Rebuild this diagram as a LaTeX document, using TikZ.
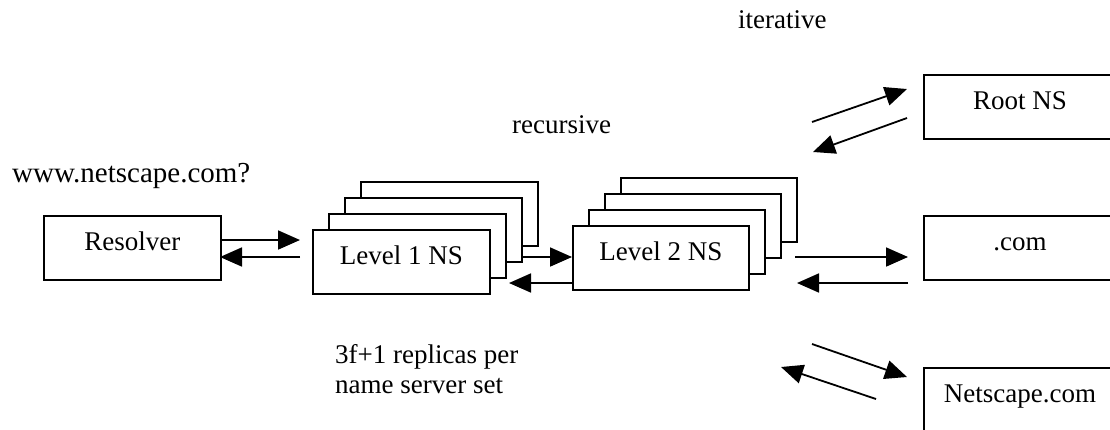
\documentclass[tikz,border=0pt]{standalone}
\usepackage{fontspec}
\setmainfont{Liberation Serif}
\usetikzlibrary{arrows.meta,calc}
\begin{document}
\begin{tikzpicture}[x=1pt,y=-1pt,
  every node/.style={font=\fontsize{27}{30}\selectfont},
  box/.style={draw,line width=1.8pt,fill=white,rectangle,inner sep=0pt,minimum width=177pt,minimum height=64pt,anchor=north west},
  rbox/.style={box,minimum width=192pt},
  lbl/.style={anchor=base,inner sep=0pt},
  txt/.style={anchor=base west,inner sep=0pt},
  arr/.style={line width=1.8pt,-{Triangle[length=22pt,width=19pt]}}]
\useasboundingbox (0,0) rectangle (1110,429);
\begin{scope}
\clip (0,0) rectangle (1110,429);
% Resolver
\node[box] (res) at (43,215) {};
\node[lbl] (resT) at ($(res.north)+(0,35)$) {Resolver};
% Level 1 stack
\node[box] (l1d) at (360,181) {};
\node[box] (l1c) at (344,197) {};
\node[box] (l1b) at (328,213) {};
\node[box] (l1a) at (312,229) {};
\node[lbl] (l1T) at ($(l1a.north)+(0,35)$) {Level 1 NS};
% Level 2 stack
\node[box,minimum width=176pt] (l2d) at (620,177) {};
\node[box,minimum width=176pt] (l2c) at (604,193) {};
\node[box,minimum width=176pt] (l2b) at (588,209) {};
\node[box,minimum width=176pt] (l2a) at (572,225) {};
\node[lbl] (l2T) at ($(l2a.north)+(0,35)$) {Level 2 NS};
% right column
\node[rbox] (root) at (923,74) {};
\node[lbl] (rootT) at ($(root.north)+(0,35)$) {Root NS};
\node[rbox] (com) at (923,215) {};
\node[lbl] (comT) at ($(com.north)+(0,35)$) {.com};
\node[rbox] (net) at (923,367) {};
\node[lbl] (netT) at ($(net.north)+(0,35)$) {Netscape.com};
\end{scope}
% texts
\node[txt,font=\fontsize{29}{32}\selectfont] (www) at (12,182) {www.netscape.com?};
\node[txt] (iter) at (738,28) {iterative};
\node[txt] (rec) at (512,133) {recursive};
\node[txt] (rep1) at (335,363) {3f+1 replicas per};
\node[txt] (rep2) at (335,393) {name server set};
% arrow end points
\coordinate (a1s) at (220,240); \coordinate (a1e) at (300,240);
\coordinate (b1s) at (300,257); \coordinate (b1e) at (220,257);
\coordinate (a2s) at (523,257); \coordinate (a2e) at (572,257);
\coordinate (b2s) at (572,283); \coordinate (b2e) at (509,283);
\coordinate (a3s) at (795,257); \coordinate (a3e) at (908,257);
\coordinate (b3s) at (908,283); \coordinate (b3e) at (797,283);
\coordinate (a4s) at (812,122); \coordinate (a4e) at (907,89);
\coordinate (b4s) at (907,118); \coordinate (b4e) at (813,152);
\coordinate (a5s) at (812,344); \coordinate (a5e) at (907,377);
\coordinate (b5s) at (876,399); \coordinate (b5e) at (781,367);
\draw[arr] (a1s) -- (a1e);
\draw[arr] (b1s) -- (b1e);
\draw[arr] (a2s) -- (a2e);
\draw[arr] (b2s) -- (b2e);
\draw[arr] (a3s) -- (a3e);
\draw[arr] (b3s) -- (b3e);
\draw[arr] (a4s) -- (a4e);
\draw[arr] (b4s) -- (b4e);
\draw[arr] (a5s) -- (a5e);
\draw[arr] (b5s) -- (b5e);
\end{tikzpicture}
\end{document}
